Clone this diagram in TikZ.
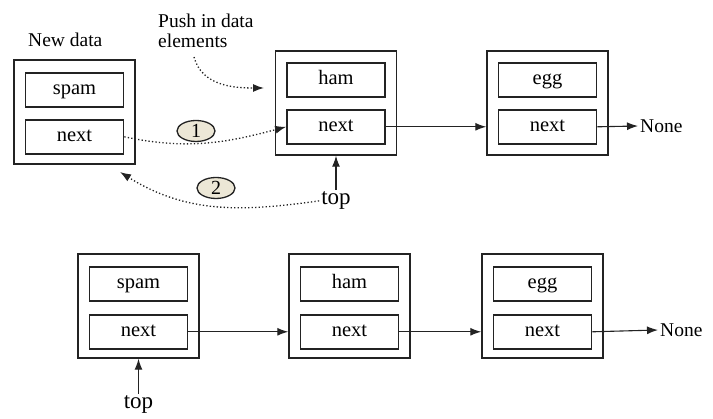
\documentclass[tikz,border=0pt]{standalone}
\usepackage{fontspec}
\setmainfont{Liberation Serif}
\newfontfamily\serifface{Liberation Serif}
\usetikzlibrary{shapes.geometric, arrows.meta, positioning, calc}
\definecolor{ink}{RGB}{35,35,35}
\definecolor{tagfill}{RGB}{236,231,214}
\tikzset{
  >={Latex[length=11pt,width=8pt]},
  link/.style={line width=1.1pt, draw=ink},
  hint/.style={link, line width=1.3pt, dash pattern=on 1.3pt off 2.2pt},
  cell/.style={rectangle, draw=ink, line width=1.5pt, minimum width=121pt,
    minimum height=104pt, inner sep=0pt},
  field/.style={rectangle, draw=ink, line width=1.7pt, minimum width=98pt,
    minimum height=34pt, inner sep=0pt, text height=14pt, text depth=4.5pt,
    font=\serifface\fontsize{20.5}{23}\selectfont},
  caption/.style={inner sep=2pt, font=\serifface\fontsize{19.5}{20}\selectfont},
  topmark/.style={inner sep=2pt, font=\serifface\fontsize{23}{24}\selectfont},
  tag/.style={ellipse, draw=ink, line width=1.3pt, fill=tagfill,
    minimum width=38pt, minimum height=21pt, inner sep=0pt,
    font=\serifface\fontsize{20}{20}\selectfont},
}
\begin{document}
\begin{tikzpicture}[x=1pt, y=1pt]
  \useasboundingbox (0,0) rectangle (713,-419);

  % ----- before the push ----------------------------------------------------
  \node[cell] (new) at (74.5,-112) {};
  \node[field, below=13pt of new.north] (newval) {spam};
  \node[field, below=11pt of newval] (newnext) {next};
  \node[caption, anchor=west] (newcap) at (26,-40) {New data};

  \node[cell] (ham1) at (336,-103) {};
  \node[field, below=12pt of ham1.north] (hamval1) {ham};
  \node[field, below=11pt of hamval1] (hamnext1) {next};

  \node[cell] (egg1) at (547.5,-103) {};
  \node[field, below=12pt of egg1.north] (eggval1) {egg};
  \node[field, below=11pt of eggval1] (eggnext1) {next};

  \node[caption, anchor=west] (none1) at (638,-126) {None};
  \node[topmark, below=34pt of ham1] (top1) {top};

  \node[caption, anchor=north west, align=left] (push) at (156,-12)
    {Push in data\\elements};

  \node[tag] (tag1) at (196,-131) {1};
  \node[tag] (tag2) at (216,-188) {2};

  \coordinate (pushfrom) at (194,-57);
  \coordinate (pushto)   at (264,-88);
  \coordinate (backto)   at (120,-172);

  \draw[link,->] (hamnext1.east) -- (egg1.west |- hamnext1.east);
  \draw[link,->] (eggnext1.east) -- (none1.west);
  \draw[link,->] (top1) -- (ham1);

  \draw[hint,->] (pushfrom) to[out=-75,in=180] (pushto);
  \draw[hint,->] (newnext.east) to[out=-12,in=195] (hamnext1.west);
  \draw[hint,->] (top1.west) to[out=188,in=-32] (backto);

  % ----- after the push -----------------------------------------------------
  \node[cell] (spam2) at (138.5,-306) {};
  \node[field, below=13pt of spam2.north] (spamval2) {spam};
  \node[field, below=12pt of spamval2] (spamnext2) {next};

  \node[cell] (ham2) at (349.5,-306) {};
  \node[field, below=13pt of ham2.north] (hamval2) {ham};
  \node[field, below=12pt of hamval2] (hamnext2) {next};

  \node[cell] (egg2) at (542.5,-306) {};
  \node[field, below=13pt of egg2.north] (eggval2) {egg};
  \node[field, below=12pt of eggval2] (eggnext2) {next};

  \node[caption, anchor=west] (none2) at (658,-330) {None};
  \node[topmark, below=35pt of spam2] (top2) {top};

  \draw[link,->] (spamnext2.east) -- (ham2.west |- spamnext2.east);
  \draw[link,->] (hamnext2.east) -- (egg2.west |- hamnext2.east);
  \draw[link,->] (eggnext2.east) -- (none2.west);
  \draw[link,->] (top2) -- (spam2);
\end{tikzpicture}
\end{document}
